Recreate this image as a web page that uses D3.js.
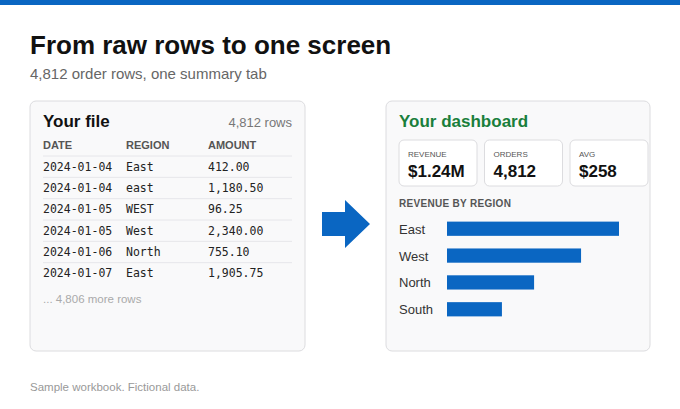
<!DOCTYPE html>
<html><head><meta charset="utf-8">
<script src="https://cdn.jsdelivr.net/npm/d3@7"></script>
<style>body{margin:0;background:#fff}svg{display:block;font-family:"Liberation Sans",Arial,sans-serif}</style>
</head><body><svg width="680" height="409"></svg>
<script>
    var svg = d3.select("svg");
    var mono = "'DejaVu Sans Mono',monospace";

    var rows = [
        ["2024-01-04", "East", "412.00"],
        ["2024-01-04", "east", "1,180.50"],
        ["2024-01-05", "WEST", "96.25"],
        ["2024-01-05", "West", "2,340.00"],
        ["2024-01-06", "North", "755.10"],
        ["2024-01-07", "East", "1,905.75"]
    ];
    var kpis = [["REVENUE", "$1.24M"], ["ORDERS", "4,812"], ["AVG", "$258"]];
    // revenue by region, $k
    var regions = [
        {name: "East", value: 476},
        {name: "West", value: 371},
        {name: "North", value: 241},
        {name: "South", value: 152}
    ];

    svg.append("rect").attr("width", 680).attr("height", 5).attr("fill", "#0a66c2");
    svg.append("text").attr("x", 30).attr("y", 54).attr("font-size", 26).attr("font-weight", "bold")
        .attr("fill", "#111").text("From raw rows to one screen");
    svg.append("text").attr("x", 30).attr("y", 79).attr("font-size", 15).attr("fill", "#666")
        .text("4,812 order rows, one summary tab");

    function panel(x, w) {
        svg.append("rect").attr("x", x).attr("y", 101).attr("width", w).attr("height", 250)
            .attr("rx", 6).attr("fill", "#f9f9fa").attr("stroke", "#dcdcdf");
    }

    // left panel
    panel(30, 275);
    svg.append("text").attr("x", 43).attr("y", 127).attr("font-size", 17).attr("font-weight", "bold")
        .attr("fill", "#111").text("Your file");
    svg.append("text").attr("x", 292).attr("y", 127).attr("font-size", 13).attr("fill", "#777")
        .attr("text-anchor", "end").text("4,812 rows");
    var cols = [43, 126, 208];
    ["DATE", "REGION", "AMOUNT"].forEach(function(h, i) {
        svg.append("text").attr("x", cols[i]).attr("y", 149).attr("font-size", 11).attr("font-weight", "bold")
            .attr("fill", "#555").text(h);
    });
    var y = d3.scaleBand().domain(d3.range(rows.length)).range([156, 284]);
    rows.forEach(function(r, i) {
        svg.append("line").attr("x1", 43).attr("x2", 292).attr("y1", y(i)).attr("y2", y(i))
            .attr("stroke", "#e6e6ea");
        r.forEach(function(c, j) {
            svg.append("text").attr("x", cols[j]).attr("y", y(i) + y.bandwidth() / 2 + 4)
                .attr("font-family", mono).attr("font-size", 11.5).attr("fill", "#222").text(c);
        });
    });
    svg.append("text").attr("x", 43).attr("y", 303).attr("font-size", 11.5).attr("fill", "#aaa")
        .text("... 4,806 more rows");

    // arrow
    svg.append("path").attr("d", "M322,212H345V200L370,224L345,248V236H322Z").attr("fill", "#0a66c2");

    // right panel
    panel(386, 264);
    svg.append("text").attr("x", 399).attr("y", 127).attr("font-size", 17).attr("font-weight", "bold")
        .attr("fill", "#1a7f3c").text("Your dashboard");
    kpis.forEach(function(k, i) {
        var kx = 399 + i * 85.5;
        svg.append("rect").attr("x", kx).attr("y", 140).attr("width", 78).attr("height", 46).attr("rx", 5)
            .attr("fill", "#fff").attr("stroke", "#dcdcdf");
        svg.append("text").attr("x", kx + 9).attr("y", 157).attr("font-size", 8).attr("fill", "#555").text(k[0]);
        svg.append("text").attr("x", kx + 9).attr("y", 177).attr("font-size", 17).attr("font-weight", "bold")
            .attr("fill", "#111").text(k[1]);
    });
    svg.append("text").attr("x", 399).attr("y", 207).attr("font-size", 10).attr("font-weight", "bold")
        .attr("fill", "#555").attr("letter-spacing", 0.3).text("REVENUE BY REGION");
    var x = d3.scaleLinear().domain([0, 476]).range([0, 172]);
    var yb = d3.scaleBand().domain(regions.map(function(d) { return d.name; })).range([209, 329]).padding(0.47);
    svg.selectAll(".bar").data(regions).enter().append("rect")
        .attr("x", 447).attr("y", function(d) { return yb(d.name); })
        .attr("width", function(d) { return x(d.value); }).attr("height", yb.bandwidth())
        .attr("fill", "#0a66c2");
    svg.selectAll(".lbl").data(regions).enter().append("text")
        .attr("x", 399).attr("y", function(d) { return yb(d.name) + yb.bandwidth() / 2 + 5; })
        .attr("font-size", 13).attr("fill", "#333").text(function(d) { return d.name; });

    svg.append("text").attr("x", 30).attr("y", 391).attr("font-size", 11.5).attr("fill", "#999")
        .text("Sample workbook. Fictional data.");
</script></body></html>
